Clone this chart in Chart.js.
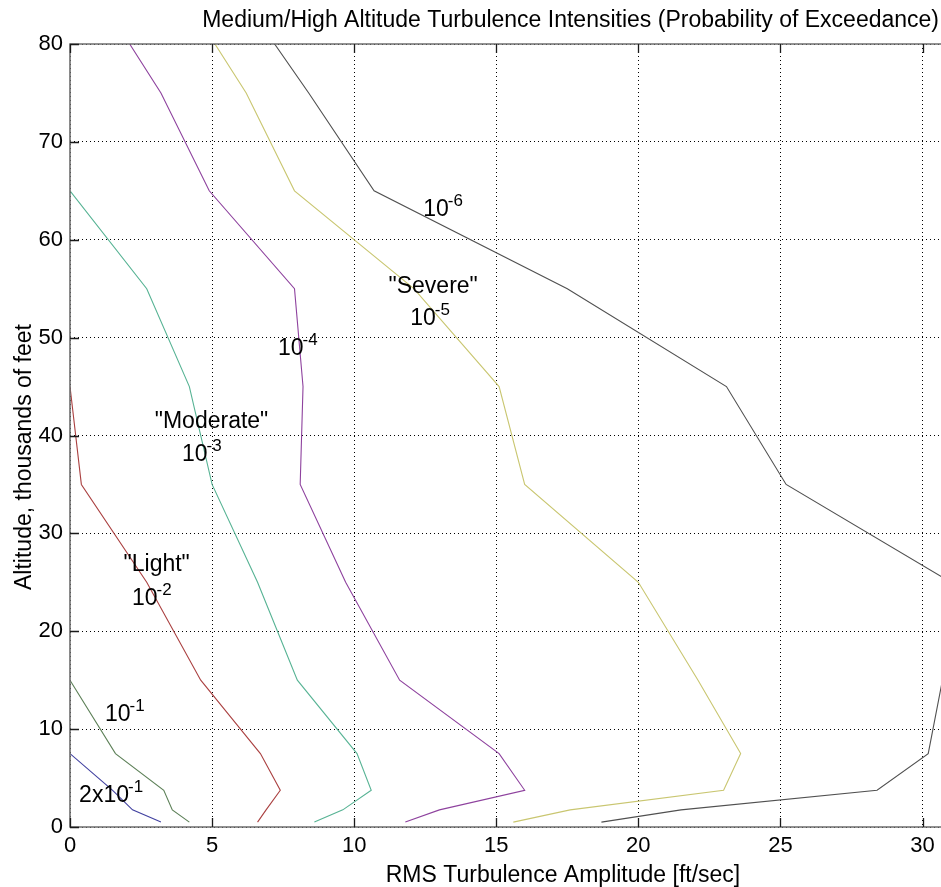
<!DOCTYPE html>
<html>
<head>
<meta charset="utf-8">
<script src="https://cdn.jsdelivr.net/npm/chart.js@4/dist/chart.umd.min.js"></script>
<style>
  html, body { margin: 0; padding: 0; background: #fff; overflow: hidden; }
  #wrap { width: 941px; height: 887px; position: relative; }
</style>
</head>
<body>
<div id="wrap"><canvas id="c" width="941" height="887"></canvas></div>
<script>
// Altitude grid (thousands of feet) and RMS turbulence amplitude (ft/sec)
// for each probability-of-exceedance level.
const altitudeKft = [0.5, 1.75, 3.75, 7.5, 15, 25, 35, 45, 55, 65, 75, 80];
const rms_2e1 = [3.2, 2.2, 1.5, 0, 0, 0, 0, 0, 0, 0, 0, 0];
const rms_1e1 = [4.2, 3.6, 3.3, 1.6, 0, 0, 0, 0, 0, 0, 0, 0];
const rms_1e2 = [6.6, 6.9, 7.4, 6.7, 4.6, 2.7, 0.4, 0, 0, 0, 0, 0];
const rms_1e3 = [8.6, 9.6, 10.6, 10.1, 8.0, 6.6, 5.0, 4.2, 2.7, 0, 0, 0];
const rms_1e4 = [11.8, 13.0, 16.0, 15.1, 11.6, 9.7, 8.1, 8.2, 7.9, 4.9, 3.2, 2.1];
const rms_1e5 = [15.6, 17.6, 23.0, 23.6, 22.1, 20.0, 16.0, 15.1, 12.1, 7.9, 6.2, 5.1];
const rms_1e6 = [18.7, 21.5, 28.4, 30.2, 30.7, 31.0, 25.2, 23.1, 17.5, 10.7, 8.4, 7.2];

const xTicks = [0, 5, 10, 15, 20, 25, 30];
const yTicks = [0, 10, 20, 30, 40, 50, 60, 70, 80];

const seriesList = [
  { name: '2x10^-1', values: rms_2e1, color: '#4141a0' },
  { name: '10^-1',   values: rms_1e1, color: '#5d8058' },
  { name: '10^-2',   values: rms_1e2, color: '#aa4040' },
  { name: '10^-3',   values: rms_1e3, color: '#57b394' },
  { name: '10^-4',   values: rms_1e4, color: '#8e429e' },
  { name: '10^-5',   values: rms_1e5, color: '#c9c670' },
  { name: '10^-6',   values: rms_1e6, color: '#505050' }
];

// Each curve ends where it first reaches zero amplitude (it then runs along the axis).
function curvePoints(values) {
  const pts = [];
  for (let i = 0; i < values.length; i++) {
    pts.push({ x: values[i], y: altitudeKft[i] });
    if (values[i] === 0) break;
  }
  return pts;
}

// In-plot labels: [text, exponent, x (ft/sec), y (kft), alignment]
const curveLabels = [
  ['10', '-6', 12.43, 62.4, 'left'],
  ['"Severe"', null, 12.78, 54.6, 'center'],
  ['10', '-5', 11.97, 51.3, 'left'],
  ['10', '-4', 7.32, 48.2, 'left'],
  ['"Moderate"', null, 4.98, 40.8, 'center'],
  ['10', '-3', 3.94, 37.4, 'left'],
  ['"Light"', null, 3.05, 26.2, 'center'],
  ['10', '-2', 2.18, 22.7, 'left'],
  ['10', '-1', 1.23, 10.8, 'left'],
  ['2x10', '-1', 0.32, 2.6, 'left']
];

const FONT = '"Liberation Sans", Arial, Helvetica, sans-serif';

const framePlugin = {
  id: 'frame',
  afterDatasetsDraw(chart) {
    const { ctx, chartArea: a } = chart;
    const xs = chart.scales.x, ys = chart.scales.y;
    ctx.save();
    // axis box (left, top, bottom)
    ctx.strokeStyle = '#6e6e6e';
    ctx.lineWidth = 1.6;
    ctx.beginPath();
    ctx.moveTo(a.right + 2, a.top);
    ctx.lineTo(a.left, a.top);
    ctx.lineTo(a.left, a.bottom);
    ctx.lineTo(a.right + 2, a.bottom);
    ctx.stroke();
    // inward tick marks
    ctx.strokeStyle = '#1a1a1a';
    ctx.lineWidth = 1.3;
    const tl = 9;
    ctx.beginPath();
    xTicks.forEach(v => {
      const px = Math.round(xs.getPixelForValue(v)) + 0.5;
      ctx.moveTo(px, a.bottom); ctx.lineTo(px, a.bottom - tl);
      ctx.moveTo(px, a.top); ctx.lineTo(px, a.top + tl);
    });
    yTicks.forEach(v => {
      const py = Math.round(ys.getPixelForValue(v)) + 0.5;
      ctx.moveTo(a.left, py); ctx.lineTo(a.left + tl, py);
    });
    ctx.stroke();

    // curve labels
    ctx.fillStyle = '#000';
    ctx.textBaseline = 'alphabetic';
    curveLabels.forEach(([txt, exp, xv, yv, align]) => {
      const px = xs.getPixelForValue(xv);
      const py = ys.getPixelForValue(yv);
      ctx.font = '23px ' + FONT;
      const w = ctx.measureText(txt).width;
      let x0 = align === 'center' ? px - w / 2 : px;
      ctx.textAlign = 'left';
      ctx.fillText(txt, x0, py);
      if (exp) {
        ctx.font = '17px ' + FONT;
        ctx.fillText(exp, x0 + w - 1, py - 10);
      }
    });

    // titles
    ctx.font = '23px ' + FONT;
    ctx.textAlign = 'right';
    ctx.fillText('Medium/High Altitude Turbulence Intensities (Probability of Exceedance)', 939, 27);
    ctx.textAlign = 'center';
    ctx.fillText('RMS Turbulence Amplitude [ft/sec]', 563, 882);
    ctx.save();
    ctx.translate(31, 457);
    ctx.rotate(-Math.PI / 2);
    ctx.fillText('Altitude, thousands of feet', 0, 0);
    ctx.restore();
    ctx.restore();
  }
};

new Chart(document.getElementById('c'), {
  type: 'scatter',
  data: {
    datasets: seriesList.map(s => ({
      label: s.name,
      data: curvePoints(s.values),
      showLine: true,
      borderColor: s.color,
      backgroundColor: s.color,
      borderWidth: 1.1,
      pointRadius: 0,
      tension: 0
    }))
  },
  options: {
    responsive: false,
    animation: false,
    layout: { padding: { top: 44, right: 0, left: 0, bottom: 0 } },
    plugins: { legend: { display: false }, tooltip: { enabled: false }, title: { display: false } },
    scales: {
      x: {
        type: 'linear',
        min: 0,
        max: 30.65,
        afterBuildTicks(scale) { scale.ticks = xTicks.map(v => ({ value: v })); },
        afterFit(scale) { scale.height = 60; },
        grid: { color: '#000', lineWidth: 1, drawTicks: false },
        border: { display: false, dash: [1, 3] },
        ticks: { autoSkip: false, maxRotation: 0, padding: 6, color: '#000', font: { family: FONT, size: 22 } }
      },
      y: {
        type: 'linear',
        min: 0,
        max: 80,
        afterBuildTicks(scale) { scale.ticks = yTicks.map(v => ({ value: v })); },
        afterFit(scale) { scale.width = 70; },
        grid: { color: '#000', lineWidth: 1, drawTicks: false },
        border: { display: false, dash: [1, 3] },
        ticks: { padding: 7, color: '#000', font: { family: FONT, size: 22 } }
      }
    }
  },
  plugins: [framePlugin]
});
</script>
</body>
</html>
